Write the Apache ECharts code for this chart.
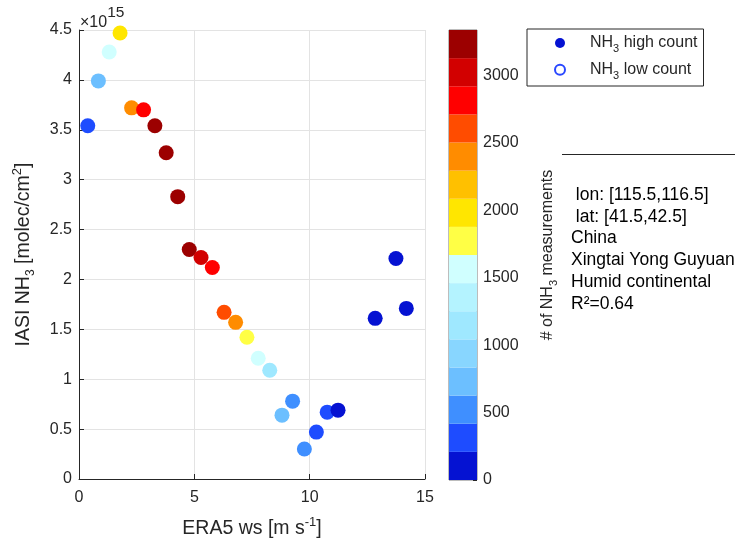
<!DOCTYPE html>
<html>
<head>
<meta charset="utf-8">
<script src="https://cdn.jsdelivr.net/npm/echarts@6/dist/echarts.min.js"></script>
<style>
html,body{margin:0;padding:0;background:#fff;}
#c{width:735px;height:544px;}
</style>
</head>
<body>
<div id="c"></div>
<script>
// ERA5 wind speed [m s-1]
var windSpeed = [0.38, 0.84, 1.31, 1.78, 2.28, 2.80, 3.29, 3.78, 4.28, 4.78, 5.29, 5.78, 6.29, 6.79, 7.28, 7.77, 8.27, 8.80, 9.26, 9.77, 10.29, 10.76, 11.23, 12.84, 13.74, 14.19];
// IASI NH3 column [x 1e15 molec/cm2]
var nh3Column = [3.54, 3.99, 4.28, 4.47, 3.72, 3.70, 3.54, 3.27, 2.83, 2.30, 2.22, 2.12, 1.67, 1.57, 1.42, 1.21, 1.09, 0.64, 0.78, 0.30, 0.47, 0.67, 0.69, 1.61, 2.21, 1.71];
// number of NH3 measurements per bin
var measCount = [310, 730, 1560, 1980, 2400, 2810, 3230, 3230, 3230, 3230, 3020, 2810, 2600, 2400, 1770, 1560, 1150, 730, 520, 520, 310, 310, 100, 100, 100, 100];
// colour bar
var cbMax = 3336;
var cbColors = ['#0512d2', '#1e4cff', '#3f8fff', '#6cbfff', '#88d6ff', '#9fe8ff', '#b4f3ff', '#d0ffff',
                '#ffff45', '#ffe600', '#ffc000', '#ff8c00', '#ff4c00', '#ff0000', '#d20000', '#9c0000'];
var xTicks = [0, 5, 10, 15];
var yTicks = [0, 0.5, 1, 1.5, 2, 2.5, 3, 3.5, 4, 4.5];
var cbTicks = [0, 500, 1000, 1500, 2000, 2500, 3000];
var legendNames = ['NH3 high count', 'NH3 low count'];
var infoLines = [' lon: [115.5,116.5]', ' lat: [41.5,42.5]', 'China', 'Xingtai Yong Guyuan', 'Humid continental', 'R\u00b2=0.64'];

var FONT = 'Liberation Sans, Arial, Helvetica, sans-serif';
var TXT = '#262626';

var bandW = cbMax / cbColors.length;
var pieces = cbColors.map(function (c, i) {
  return { gte: i * bandW, lt: (i + 1) * bandW + (i === cbColors.length - 1 ? 1 : 0), color: c };
});

var labRich = {
  n: { fontSize: 19.5, fontFamily: FONT, color: TXT, lineHeight: 26, verticalAlign: 'middle' },
  s: { fontSize: 12, fontFamily: FONT, color: TXT, lineHeight: 12, verticalAlign: 'bottom' },
  p: { fontSize: 13, fontFamily: FONT, color: TXT, lineHeight: 19, verticalAlign: 'top' }
};
var cbRich = {
  n: { fontSize: 16, fontFamily: FONT, color: TXT, lineHeight: 22, verticalAlign: 'middle' },
  s: { fontSize: 11, fontFamily: FONT, color: TXT, lineHeight: 11, verticalAlign: 'bottom' }
};
var legRich = {
  sp: { width: 20 },
  n: { fontSize: 16, fontFamily: FONT, color: TXT, lineHeight: 22.5, verticalAlign: 'middle' },
  s: { fontSize: 11, fontFamily: FONT, color: TXT, lineHeight: 11, verticalAlign: 'bottom' }
};

var cbSeries = cbColors.map(function (c, i) {
  return {
    type: 'bar', xAxisIndex: 1, yAxisIndex: 1, stack: 'cb', barWidth: '100%',
    data: [bandW], itemStyle: { color: c, opacity: 1 }, silent: true, animation: false
  };
});

var mainData = windSpeed.map(function (x, i) { return [x, nh3Column[i], measCount[i]]; });

var option = {
  animation: false,
  backgroundColor: '#fff',
  textStyle: { fontFamily: FONT },
  grid: [
    { left: 79, top: 30, width: 346, height: 450, containLabel: false },
    { left: 449, top: 30, width: 28, height: 450, show: true, borderColor: '#7a7a7a', borderWidth: 1, backgroundColor: 'transparent' }
  ],
  xAxis: [
    {
      type: 'value', gridIndex: 0, min: xTicks[0], max: xTicks[xTicks.length - 1], interval: 5,
      axisLine: { show: true, onZero: false, lineStyle: { color: TXT, width: 1 } },
      axisTick: { show: true, inside: true, length: 5, lineStyle: { color: TXT } },
      axisLabel: { fontSize: 16, color: TXT, fontFamily: FONT, margin: 11 },
      splitLine: { show: true, lineStyle: { color: '#e3e3e3', width: 1 } },
      name: '{n|ERA5 ws [m s}{p|-1}{n|]}', nameLocation: 'middle', nameGap: 37,
      nameTextStyle: { rich: labRich }
    },
    {
      type: 'category', gridIndex: 1, data: ['cb'], show: false, boundaryGap: true
    }
  ],
  yAxis: [
    {
      type: 'value', gridIndex: 0, min: yTicks[0], max: yTicks[yTicks.length - 1], interval: 0.5,
      axisLine: { show: true, onZero: false, lineStyle: { color: TXT, width: 1 } },
      axisTick: { show: true, inside: true, length: 5, lineStyle: { color: TXT } },
      axisLabel: { fontSize: 16, color: TXT, fontFamily: FONT, margin: 7 },
      splitLine: { show: true, lineStyle: { color: '#e3e3e3', width: 1 } },
      name: '{n|IASI NH}{s|3}{n| [molec/cm}{p|2}{n|]}', nameLocation: 'middle', nameRotate: 90, nameGap: 42,
      nameTextStyle: { rich: labRich }
    },
    {
      type: 'value', gridIndex: 1, min: 0, max: cbMax, interval: 500, position: 'right',
      axisLine: { show: false },
      axisTick: { show: true, inside: true, length: 4, lineStyle: { color: TXT } },
      axisLabel: {
        fontSize: 16, color: TXT, fontFamily: FONT, margin: 6, showMaxLabel: false,
        formatter: function (v) { return String(v); }
      },
      splitLine: { show: false },
      name: '{n|# of NH}{s|3}{n| measurements}', nameLocation: 'middle', nameRotate: 90, nameGap: 60,
      nameTextStyle: { rich: cbRich }
    }
  ],
  visualMap: {
    type: 'piecewise', show: false, dimension: 2, seriesIndex: 0, pieces: pieces
  },
  legend: {
    orient: 'vertical', left: 527, top: 29,
    padding: [6, 6, 5, 27], itemGap: 7.5, itemWidth: 10, itemHeight: 10,
    borderColor: TXT, borderWidth: 1, backgroundColor: '#fff',
    selectedMode: false,
    data: [
      { name: legendNames[0], icon: 'circle' },
      { name: legendNames[1], icon: 'emptyCircle' }
    ],
    formatter: function (name) {
      var rest = name.replace('NH3', '');
      return '{sp|}{n|NH}{s|3}{n|' + rest + '}';
    },
    textStyle: { rich: legRich }
  },
  series: [
    {
      name: 'bins', type: 'scatter', xAxisIndex: 0, yAxisIndex: 0,
      symbol: 'circle', symbolSize: 15, data: mainData, z: 5,
      itemStyle: { opacity: 1 }
    },
    {
      name: legendNames[0], type: 'scatter', xAxisIndex: 0, yAxisIndex: 0, data: [],
      itemStyle: { color: '#0512d2', opacity: 1 }
    },
    {
      name: legendNames[1], type: 'scatter', xAxisIndex: 0, yAxisIndex: 0, data: [],
      symbol: 'emptyCircle', itemStyle: { color: '#2a48ff', borderColor: '#2a48ff', borderWidth: 1, opacity: 1 }
    }
  ].concat(cbSeries),
  graphic: [
    {
      type: 'text', left: 80, top: 5,
      style: {
        text: '{a|\u00d710}{b|15}',
        rich: {
          a: { fontSize: 16, fontFamily: FONT, fill: TXT, lineHeight: 26, verticalAlign: 'bottom' },
          b: { fontSize: 15.5, fontFamily: FONT, fill: TXT, lineHeight: 8, verticalAlign: 'top' }
        }
      }
    },
    {
      type: 'line', shape: { x1: 562, y1: 154.5, x2: 735, y2: 154.5 },
      style: { stroke: TXT, lineWidth: 1 }
    },
    {
      type: 'group', left: 571, top: 186,
      children: infoLines.map(function (t, i) {
        return {
          type: 'text', x: 0, y: i * 21.8,
          style: { text: t, fontSize: 17.5, fontFamily: FONT, fill: '#000', verticalAlign: 'top' }
        };
      })
    }
  ]
};

var chart = echarts.init(document.getElementById('c'), null, { renderer: 'canvas' });
chart.setOption(option);
</script>
</body>
</html>
